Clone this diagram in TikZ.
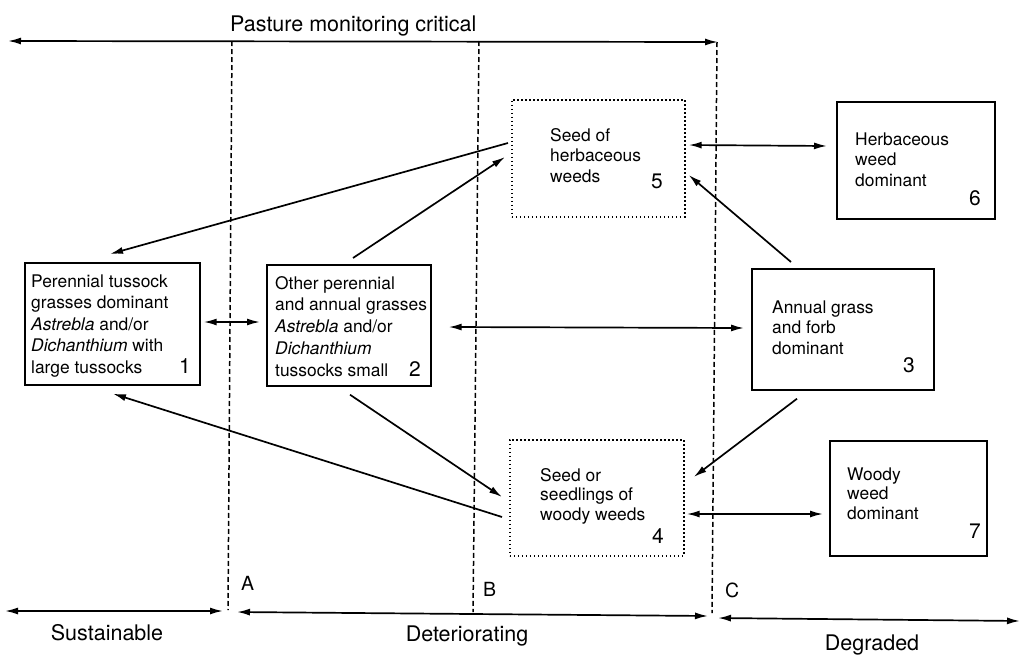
\documentclass[tikz,border=0pt]{standalone}
\usepackage{fontspec}
\setmainfont{TeX Gyre Heros}
\usetikzlibrary{arrows.meta}
\newcommand{\fl}{\rule{0pt}{14pt}}
\tikzset{
  box/.style={draw, line width=1.7pt, anchor=north west, inner sep=0pt},
  dotbox/.style={draw, line width=1.7pt, dash pattern=on 1.4pt off 2.6pt, anchor=north west, inner sep=0pt},
  txt/.style={anchor=north west, inner sep=0pt, align=left, font=\fontsize{17.4}{20.5}\selectfont},
  num/.style={anchor=base, inner sep=0pt, font=\fontsize{21}{24}\selectfont},
  lbl/.style={anchor=base, inner sep=0pt, font=\fontsize{21.5}{25}\selectfont},
  letter/.style={anchor=base west, inner sep=0pt, font=\fontsize{19.5}{22}\selectfont},
  arr/.style={line width=1.7pt, -{Latex[length=13pt,width=7pt]}},
  darr/.style={line width=1.7pt, {Latex[length=13pt,width=7pt]}-{Latex[length=13pt,width=7pt]}},
  divider/.style={line width=1.5pt, dash pattern=on 5pt off 3pt},
}
\begin{document}
\begin{tikzpicture}[x=1pt,y=-1pt]
\useasboundingbox (0,0) rectangle (1022,654);
% boxes
\node[box, minimum width=175pt, minimum height=122pt] (b1) at (24,262) {};
\node[box, minimum width=164pt, minimum height=121pt] (b2) at (266,264) {};
\node[box, minimum width=182pt, minimum height=121pt] (b3) at (751,268) {};
\node[dotbox, minimum width=174pt, minimum height=116pt] (b4) at (509,439) {};
\node[dotbox, minimum width=173pt, minimum height=117pt] (b5) at (511,99) {};
\node[box, minimum width=158pt, minimum height=117pt] (b6) at (836,101) {};
\node[box, minimum width=157pt, minimum height=115pt] (b7) at (829,440) {};
% texts
\node[txt, font=\fontsize{17.4}{21.5}\selectfont] (t1) at (31,273) {\fl Perennial tussock\\grasses dominant\\\textit{Astrebla} and/or\\\textit{Dichanthium} with\\large tussocks};
\node[num] (n1) at (185,373) {1};
\node[txt, font=\fontsize{17.4}{21.75}\selectfont] (t2) at (275,275) {\fl Other perennial\\and annual grasses\\\textit{Astrebla} and/or\\\textit{Dichanthium}\\tussocks small};
\node[num] (n2) at (415,376) {2};
\node[txt] (t3) at (772,299) {\fl Annual grass\\and forb\\dominant};
\node[num] (n3) at (909,372) {3};
\node[txt] (t5) at (550,127) {\fl Seed of\\herbaceous\\weeds};
\node[num] (n5) at (657,188) {5};
\node[txt] (t6) at (855,131) {\fl Herbaceous\\weed\\dominant};
\node[num] (n6) at (975,205) {6};
\node[txt, font=\fontsize{17.4}{19.5}\selectfont] (t4) at (540,467) {\fl Seed or\\seedlings of\\woody weeds};
\node[num] (n4) at (658,543) {4};
\node[txt, font=\fontsize{17.4}{19.5}\selectfont] (t7) at (847,466) {\fl Woody\\weed\\dominant};
\node[num] (n7) at (975,538) {7};
% title and bottom labels
\node[lbl, anchor=base west] (title) at (230,31) {Pasture monitoring critical};
\node[lbl] (sus) at (107,640) {Sustainable};
\node[lbl] (det) at (467,641) {Deteriorating};
\node[lbl] (deg) at (872,650) {Degraded};
\node[letter] (la) at (241,590) {A};
\node[letter] (lb) at (483,596) {B};
\node[letter] (lc) at (725,597) {C};
% reference coordinates for free lines
\coordinate (tl) at (8,41);
\coordinate (tr) at (718,42);
\coordinate (aT) at (232,41);
\coordinate (aB) at (228,610);
\coordinate (bT) at (479,41);
\coordinate (bB) at (473,612);
\coordinate (cT) at (717,42);
\coordinate (cB) at (712,613);
\coordinate (s1) at (5,611);
\coordinate (s2) at (223,611);
\coordinate (d1) at (237,612);
\coordinate (d2) at (708,616);
\coordinate (g1) at (718,618);
\coordinate (g2) at (1020,621);
% dividers and period arrows
\draw[divider] (aT) -- (aB);
\draw[divider] (bT) -- (bB);
\draw[divider] (cT) -- (cB);
\draw[darr] (tl) -- (tr);
\draw[darr] (s1) -- (s2);
\draw[darr] (d1) -- (d2);
\draw[darr] (g1) -- (g2);
% connectors
\draw[arr] ([shift={(-3,44)}]b5.north west) -- ([shift={(86,-8)}]b1.north west);
\draw[arr] ([shift={(87,-6)}]b2.north west) -- ([shift={(-6,58)}]b5.north west);
\draw[darr] ([shift={(3,60)}]b1.north east) -- ([shift={(-6,58)}]b2.north west);
\draw[darr] ([shift={(17,63)}]b2.north east) -- ([shift={(-7,60)}]b3.north west);
\draw[arr] ([shift={(40,-6)}]b3.north west) -- ([shift={(3,76)}]b5.north east);
\draw[darr] ([shift={(3,46)}]b5.north east) -- ([shift={(-9,45)}]b6.north west);
\draw[arr] ([shift={(46,8)}]b3.south west) -- ([shift={(9,38)}]b4.north east);
\draw[arr] ([shift={(84,8)}]b2.south west) -- ([shift={(-7,58)}]b4.north west);
\draw[arr] ([shift={(-7,78)}]b4.north west) -- ([shift={(89,8)}]b1.south west);
\draw[darr] ([shift={(2,75)}]b4.north east) -- ([shift={(-6,74)}]b7.north west);
\end{tikzpicture}
\end{document}
